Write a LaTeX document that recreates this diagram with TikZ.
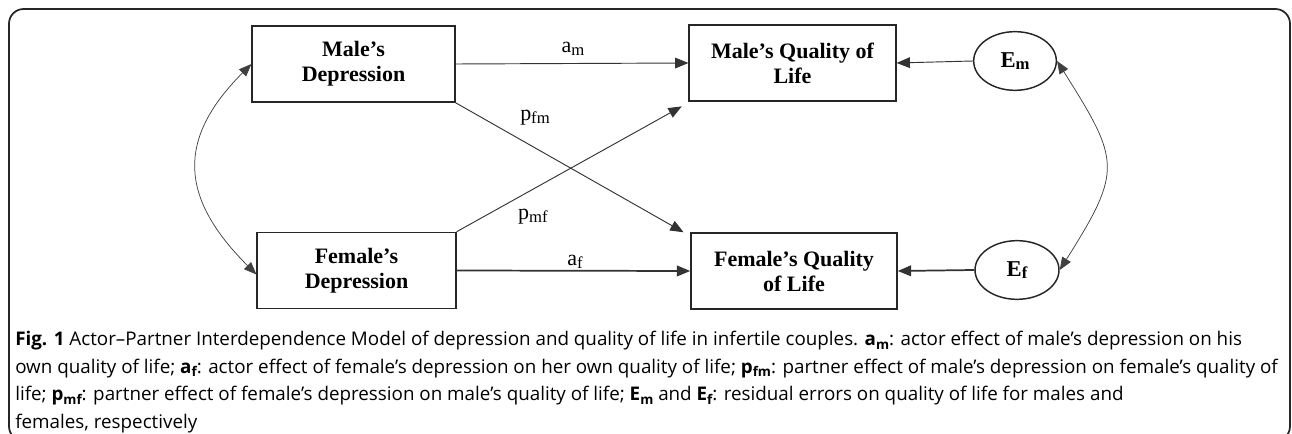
\documentclass[tikz,border=0pt]{standalone}
\usepackage{fontspec}
\setmainfont{Liberation Serif}
\newfontfamily\capfont{Open Sans}
\usetikzlibrary{shapes.geometric,arrows.meta}
\newcommand{\lowsub}[1]{\raisebox{-0.12em}{\fontsize{12.5}{13}\selectfont #1}}
\newcommand{\capsub}[1]{\raisebox{-0.2em}{\fontsize{10}{10}\selectfont #1}}

\begin{document}
\begin{tikzpicture}[x=0.75pt,y=-0.75pt,
  box/.style={draw=black!85, line width=1.1pt, minimum height=57pt, inner sep=0pt, align=center, font=\fontsize{16.5}{18.75}\selectfont\bfseries},
  err/.style={draw=black!85, ellipse, line width=1.1pt, minimum width=62pt, minimum height=44pt, inner sep=0pt, font=\fontsize{17}{18}\selectfont\bfseries},
  effect/.style={draw=black!80, line width=0.7pt, -{Triangle[length=10pt,width=8pt]}},
  corr/.style={draw=black!75, line width=0.55pt, {Triangle[length=9.5pt,width=7.5pt]}-{Triangle[length=9.5pt,width=7.5pt]}},
  coef/.style={font=\fontsize{16.5}{18}\selectfont}]
\useasboundingbox (0,0) rectangle (1292,434);
\clip (0,0) rectangle (1292,434);
\draw[black!85, line width=1.3pt, rounded corners=11pt] (9,9) rectangle (1290,441);

\node[box, minimum width=152pt] (md) at (353.5,64) {Male's\\Depression};
\node[box, minimum width=155pt] (mq) at (792.5,63) {Male's Quality of\\Life};
\node[box, minimum width=149pt] (fd) at (356.5,270.5) {Female's\\Depression};
\node[box, minimum width=154.5pt] (fq) at (794,271) {Female's Quality\\of Life};
\node[err] (em) at (1015,61) {E\lowsub{m}};
\node[err, minimum width=63pt] (ef) at (1017,270) {E\lowsub{f}};

\draw[effect] (md.east) -- (mq.west);
\draw[effect] (em.west) -- (mq.east);
\draw[effect] (md.south east) -- ([xshift=-5pt]fq.north west);
\draw[effect] (fd.north east) -- ([xshift=-5pt,yshift=-3.5pt]mq.south west);
\draw[effect, line width=1.3pt] (fd.east) -- (fq.west);
\draw[effect, line width=1.3pt] (ef.west) -- (fq.east);

\draw[corr] (md.west) .. controls +(-76,76) and +(-76,-76) .. ([yshift=-3pt]fd.west);
\draw[corr] (em.east) .. controls +(63,100) and +(63,-100) .. (ef.east);

\node[coef] (am) at (573,49) {a\lowsub{m}};
\node[coef] (pfm) at (535,118) {p\lowsub{fm}};
\node[coef] (pmf) at (533,217) {p\lowsub{mf}};
\node[coef] (af) at (575,262) {a\lowsub{f}};

\node[anchor=north west, inner sep=0pt, align=left, font=\capfont\fontsize{14.1}{20.6}\selectfont] (caption) at (15,331) {%
\textbf{Fig. 1} Actor–Partner Interdependence Model of depression and quality of life in infertile couples. \textbf{a\capsub{m}}: actor effect of male’s depression on his\\
own quality of life; \textbf{a\capsub{f}}: actor effect of female’s depression on her own quality of life; \textbf{p\capsub{fm}}: partner effect of male’s depression on female’s quality of\\
life; \textbf{p\capsub{mf}}: partner effect of female’s depression on male’s quality of life; \textbf{E\capsub{m}} and \textbf{E\capsub{f}}: residual errors on quality of life for males and\\
females, respectively};
\end{tikzpicture}
\end{document}
